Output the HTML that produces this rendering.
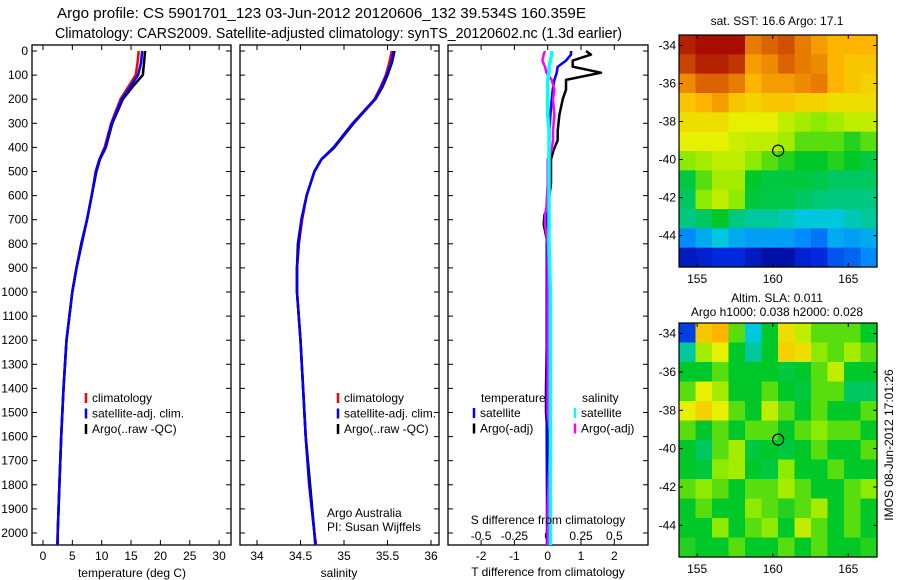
<!DOCTYPE html>
<html><head><meta charset="utf-8"><style>
body{margin:0;background:#fff;}
svg{display:block;font-family:"Liberation Sans",sans-serif;}
text{font-size:12px;fill:#000;}
</style></head><body>
<svg id="fig" width="900" height="580" viewBox="0 0 900 580" xmlns="http://www.w3.org/2000/svg">
<text x="57" y="18" textLength="529" lengthAdjust="spacingAndGlyphs" style="font-size:14.5px">Argo profile: CS 5901701_123 03-Jun-2012 20120606_132 39.534S 160.359E</text>
<text x="55" y="38" textLength="567" lengthAdjust="spacingAndGlyphs" style="font-size:14.5px">Climatology: CARS2009. Satellite-adjusted climatology: synTS_20120602.nc (1.3d earlier)</text>
<g id="maps"></g>
<g id="panels"></g>
</svg>
<script>
// ---------- data ----------
const depthTicks=[0,100,200,300,400,500,600,700,800,900,1000,1100,1200,1300,1400,1500,1600,1700,1800,1900,2000];
const tTicks=[0,5,10,15,20,25,30];
const sTicks=[34,34.5,35,35.5,36];
const sTickLabels=["34","34.5","35","35.5","36"];
const dTicks=[-2,-1,0,1,2];
const sdTickLabels=["-0.5","-0.25","0","0.25","0.5"];
const profDepth=[0,50,100,150,200,300,400,450,500,600,700,800,900,1000,1200,1400,1600,1800,2000,2050];
const tempClim=[16.3,16.1,15.8,14.5,13.2,11.6,10.5,9.6,9.0,8.3,7.5,6.6,5.7,5.0,4.0,3.5,3.1,2.8,2.5,2.4];
const tempSat=[16.9,16.7,16.2,14.8,13.4,11.7,10.6,9.6,9.0,8.3,7.5,6.6,5.7,5.0,4.0,3.5,3.1,2.8,2.5,2.5];
const tempArgo=[17.4,17.2,17.0,15.2,13.6,11.8,10.7,9.7,9.1,8.3,7.5,6.5,5.7,5.0,4.0,3.5,3.1,2.8,2.5,2.5];
const salClim=[35.55,35.52,35.48,35.42,35.35,35.1,34.88,34.74,34.66,34.57,34.52,34.48,34.46,34.46,34.5,34.53,34.56,34.6,34.66,34.68];
const salSat=[35.57,35.54,35.49,35.43,35.36,35.1,34.88,34.74,34.66,34.57,34.51,34.48,34.46,34.46,34.5,34.53,34.56,34.6,34.66,34.67];
const salArgo=[35.58,35.55,35.5,35.44,35.36,35.11,34.89,34.74,34.66,34.57,34.51,34.47,34.46,34.46,34.5,34.53,34.56,34.61,34.66,34.67];
const diffDepth=[0,15,40,65,90,120,160,200,265,330,370,410,450,550,650,680,720,800,1000,1400,1500,1600,1900,2050];
const dTArgo=[1.15,1.3,0.75,0.75,1.6,0.55,0.55,0.45,0.35,0.3,0.3,0.18,0.1,0.1,0.0,-0.1,-0.12,0.0,0.0,-0.05,-0.05,0.0,0.0,0.0];
const dTSat=[0.7,0.7,0.55,0.3,0.27,0.2,0.15,0.12,0.08,0.05,0.05,0.04,0.03,0.02,0.0,-0.02,-0.02,-0.03,-0.03,-0.03,-0.03,-0.03,-0.02,-0.02];
const dSSat=[0.03,0.03,0.02,0.01,0.01,0.0,0.0,0.0,0.0,0.01,0.01,0.01,0.01,0.01,0.01,0.01,0.01,0.01,0.02,0.02,0.02,0.02,0.02,0.02];
const dSArgo=[-0.02,-0.03,-0.04,-0.02,-0.01,0.03,0.05,0.04,0.05,0.04,0.04,0.03,0.0,0.0,-0.01,-0.02,-0.02,0.0,0.0,0.0,0.0,0.02,0.0,0.0];
const lonTicks=[155,160,165];
const latTicks=[-34,-36,-38,-40,-42,-44];
const sstGrid=[
[.95,.98,.98,.98,.82,.85,.88,.82,.78,.75,.75,.75],
[.9,.95,.95,.92,.78,.8,.85,.82,.8,.75,.72,.72],
[.8,.85,.85,.82,.75,.78,.78,.8,.82,.75,.72,.7],
[.72,.75,.78,.72,.7,.72,.72,.7,.7,.68,.68,.68],
[.68,.68,.68,.65,.65,.65,.62,.6,.58,.6,.62,.62],
[.65,.65,.65,.63,.62,.62,.6,.55,.55,.55,.52,.55],
[.58,.6,.62,.62,.58,.55,.52,.5,.5,.52,.5,.48],
[.48,.55,.6,.6,.5,.48,.48,.48,.47,.45,.45,.45],
[.45,.58,.62,.58,.48,.47,.47,.45,.43,.42,.42,.42],
[.42,.45,.5,.42,.4,.4,.38,.35,.35,.35,.38,.4],
[.25,.3,.35,.3,.28,.28,.28,.25,.22,.3,.28,.3],
[.08,.1,.12,.12,.08,.05,.05,.1,.12,.18,.2,.25]];
const slaGrid=[
[.15,.72,.75,.55,.35,.5,.68,.62,.55,.55,.55,.5],
[.4,.6,.65,.5,.4,.5,.7,.68,.58,.55,.6,.55],
[.5,.5,.55,.5,.5,.5,.48,.5,.55,.62,.5,.5],
[.55,.65,.6,.5,.5,.55,.5,.48,.55,.55,.45,.45],
[.65,.7,.65,.55,.5,.62,.55,.5,.55,.5,.5,.55],
[.55,.5,.55,.5,.55,.55,.5,.55,.58,.55,.55,.5],
[.5,.45,.55,.6,.48,.5,.48,.5,.55,.5,.5,.55],
[.5,.48,.58,.6,.5,.48,.58,.5,.5,.55,.5,.5],
[.55,.58,.55,.5,.55,.55,.6,.55,.5,.5,.55,.58],
[.5,.55,.5,.5,.58,.55,.52,.55,.6,.5,.55,.5],
[.5,.5,.58,.5,.55,.58,.5,.62,.55,.5,.55,.5],
[.52,.5,.5,.55,.5,.5,.55,.5,.55,.5,.5,.52]];
const argoLon=160.36, argoLat=-39.53;

// ---------- helpers ----------
const NS="http://www.w3.org/2000/svg";
const svg=document.getElementById('fig');
function mk(tag,attrs,parent){const e=document.createElementNS(NS,tag);for(const k in attrs)e.setAttribute(k,attrs[k]);(parent||svg).appendChild(e);return e;}
function txt(s,x,y,anchor,parent){const t=mk('text',{x:x,y:y,'text-anchor':anchor||'start'},parent);t.textContent=s;return t;}
const Y0=51, DPX=24.1;
const yD=d=>Y0+d*DPX/100;
const pTop=45,pBot=545;
const panels=document.getElementById('panels');

function frame(x0,x1,name){
  const r=mk('rect',{x:x0,y:pTop,width:x1-x0,height:pBot-pTop,fill:'none',stroke:'#000','stroke-width':1.3},panels);
  
  
}
function xticks(vals,fx,labels,ly){
  vals.forEach((v,i)=>{const x=fx(v);
    mk('line',{x1:x,x2:x,y1:pBot,y2:pBot-5,stroke:'#000'},panels);
    mk('line',{x1:x,x2:x,y1:pTop,y2:pTop+5,stroke:'#000'},panels);
    if(labels){const t=txt(labels[i],x,ly,'middle',panels);
      
      }
  });
}
function yticks(x0,x1,withLabels){
  depthTicks.forEach(d=>{const y=yD(d);
    mk('line',{x1:x0,x2:x0+5,y1:y,y2:y,stroke:'#000'},panels);
    mk('line',{x1:x1,x2:x1-5,y1:y,y2:y,stroke:'#000'},panels);
    if(withLabels){const t=txt(String(d),28,y+4,'end',panels);
      
      }
  });
}
function line(vals,depths,fx,color,name,w){
  const pts=vals.map((v,i)=>fx(v).toFixed(1)+','+yD(depths[i]).toFixed(1)).join(' ');
  const p=mk('polyline',{points:pts,fill:'none',stroke:color,'stroke-width':w||2.5,'stroke-linejoin':'round'},panels);
  
  
}
function legend(x,y,items){
  items.forEach((it,i)=>{
    const yy=y+i*15.5;
    mk('line',{x1:x,x2:x,y1:yy-9,y2:yy+1,stroke:it[1],'stroke-width':2.5},panels);
    const t=txt(it[0],x+6,yy,'start',panels);
    
    
  });
}

// panel 1: temperature
const xT=v=>43+v*5.87;
frame(32,231,'temperature-panel');
yticks(32,231,true);
xticks(tTicks,xT,tTicks.map(String),560);
line(tempClim,profDepth,xT,'#ff0000','temp-climatology-line');
line(tempArgo,profDepth,xT,'#000','temp-argo-line');
line(tempSat,profDepth,xT,'#0000ff','temp-satellite-line');
legend(86,402,[['climatology','#f00'],['satellite-adj. clim.','#00f'],['Argo(..raw -QC)','#000']]);
let t=txt('temperature (deg C)',132,577,'middle',panels);

// panel 2: salinity
const xS=v=>257+(v-34)*87;
frame(240,439,'salinity-panel');
yticks(240,439,false);
xticks(sTicks,xS,sTickLabels,560);
line(salClim,profDepth,xS,'#ff0000','sal-climatology-line');
line(salArgo,profDepth,xS,'#000','sal-argo-line');
line(salSat,profDepth,xS,'#0000ff','sal-satellite-line');
legend(338,402,[['climatology','#f00'],['satellite-adj. clim.','#00f'],['Argo(..raw -QC)','#000']]);
t=txt('salinity',339,577,'middle',panels);
t=txt('Argo Australia',327,517,'start',panels);
t=txt('PI: Susan Wijffels',327,531,'start',panels);

// panel 3: differences
const xdT=v=>547.7+v*33.3;
const xdS=v=>547.7+v*133.2;
frame(448,648,'difference-panel');
yticks(448,648,false);
xticks(dTicks,xdT,dTicks.map(String),560);
dTicks.forEach((v,i)=>{const tt=txt(sdTickLabels[i],xdT(v),540,'middle',panels);
  
  });
line(dTArgo,diffDepth,xdT,'#000','tdiff-argo-line');
line(dTSat,diffDepth,xdT,'#0000ff','tdiff-satellite-line');
line(dSArgo,diffDepth,xdS,'#ff00ff','sdiff-argo-line');
line(dSSat,diffDepth,xdS,'#00ffff','sdiff-satellite-line',3.5);
t=txt('temperature',481,402,'start',panels);
t=txt('salinity',582,402,'start',panels);
legend(474,417,[['satellite','#00f'],['Argo(-adj)','#000']]);
legend(575,417,[['satellite','#0ff'],['Argo(-adj)','#f0f']]);
t=txt('S difference from climatology',548,524,'middle',panels);
t=txt('T difference from climatology',548,576,'middle',panels);

// ---------- maps ----------
const maps=document.getElementById('maps');
const cmapStops=[[0,0,0,130],[0.12,0,40,220],[0.25,0,140,255],[0.35,0,200,220],[0.42,0,200,130],[0.5,0,200,40],[0.58,140,235,0],[0.65,230,240,0],[0.75,255,180,0],[0.85,220,100,0],[1,160,0,0]];
function cmap(v){
  v=Math.max(0,Math.min(1,v));
  for(let i=1;i<cmapStops.length;i++){
    const a=cmapStops[i-1],b=cmapStops[i];
    if(v<=b[0]){const f=(v-a[0])/(b[0]-a[0]);
      return 'rgb('+[1,2,3].map(k=>Math.round(a[k]+(b[k]-a[k])*f)).join(',')+')';}
  }
  return 'rgb(160,0,0)';
}
function drawMap(grid,x0,x1,y0,y1,latTop,name){
  const lon0=153.8,lon1=166.9,latBot=latTop-12.2;
  const fx=l=>x0+(l-lon0)/(lon1-lon0)*(x1-x0);
  const fy=l=>y0+(latTop-l)/(latTop-latBot)*(y1-y0);
  const rows=grid.length, cols=grid[0].length;
  const cw=(x1-x0)/cols, ch=(y1-y0)/rows;
  grid.forEach((row,i)=>row.forEach((v,j)=>{
    const r=mk('rect',{x:x0+j*cw,y:y0+i*ch,width:cw+0.6,height:ch+0.6,fill:cmap(v)},maps);
    
    
  }));
  const f=mk('rect',{x:x0,y:y0,width:x1-x0,height:y1-y0,fill:'none',stroke:'#000','stroke-width':1.2},maps);
  
  
  lonTicks.forEach(l=>{const x=fx(l);
    mk('line',{x1:x,x2:x,y1:y1,y2:y1-4,stroke:'#000'},maps);
    mk('line',{x1:x,x2:x,y1:y0,y2:y0+4,stroke:'#000'},maps);
    const tt=txt(String(l),x,y1+16,'middle',maps);
    
    });
  latTicks.forEach(l=>{const y=fy(l);
    mk('line',{x1:x0,x2:x0+4,y1:y,y2:y,stroke:'#000'},maps);
    mk('line',{x1:x1,x2:x1-4,y1:y,y2:y,stroke:'#000'},maps);
    const tt=txt(String(l),x0-3,y+4,'end',maps);
    
    });
  const c=mk('circle',{cx:fx(argoLon),cy:fy(argoLat),r:5.5,fill:'none',stroke:'#000','stroke-width':1.2},maps);
  
  
}
drawMap(sstGrid,679,877,35,267,-33.45,'sst-map');
drawMap(slaGrid,679,877,323,557,-33.45,'sla-map');
t=txt('sat. SST: 16.6 Argo: 17.1',777,25,'middle',maps);
t=txt('Altim. SLA: 0.011',777,302,'middle',maps);
t=txt('Argo h1000: 0.038 h2000: 0.028',777,316,'middle',maps);
t=txt('IMOS 08-Jun-2012 17:01:26',0,0,'middle',maps);
t.setAttribute('transform','translate(893,445) rotate(-90)');


</script>
</body></html>
